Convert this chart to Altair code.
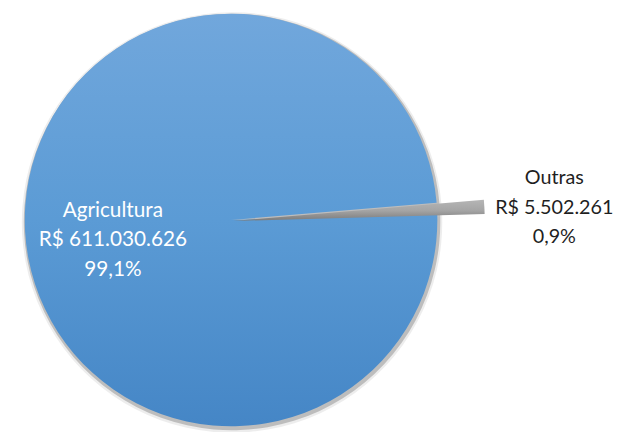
import math
import altair as alt
import pandas as pd

categorias = ["Agricultura", "Outras"]
valores = [611030626, 5502261]

total = sum(valores)
valores_txt = ["R$ " + f"{v:,}".replace(",", ".") for v in valores]
percentuais_txt = [f"{v / total * 100:.1f}".replace(".", ",") + "%" for v in valores]

df = pd.DataFrame({
    "categoria": categorias,
    "valor": valores,
    "valor_txt": valores_txt,
    "pct_txt": percentuais_txt,
})

start = math.radians(88.4)
theta = alt.Theta("valor:Q", stack=True,
                  scale=alt.Scale(range=[start, start + 2 * math.pi]))
order = alt.Order("categoria:N", sort="ascending")
cx, cy = 226, 212

base = alt.Chart(df).encode(theta=theta, order=order).transform_calculate(
    rotulo="datum.categoria + '\\n' + datum.valor_txt + '\\n' + datum.pct_txt"
)

is_agri = "datum.categoria === 'Agricultura'"
is_outras = "datum.categoria === 'Outras'"

blue_grad = alt.LinearGradient(
    gradient="linear", x1=0, y1=0, x2=0, y2=1,
    stops=[alt.GradientStop(color="#71a7dc", offset=0),
           alt.GradientStop(color="#5b9bd5", offset=0.5),
           alt.GradientStop(color="#4586c6", offset=1)],
)
gray_grad = alt.LinearGradient(
    gradient="linear", x1=0, y1=0, x2=0, y2=1,
    stops=[alt.GradientStop(color="#b5b5b5", offset=0),
           alt.GradientStop(color="#a5a5a5", offset=0.5),
           alt.GradientStop(color="#7a7a7a", offset=1)],
)

shadow1 = base.mark_arc(radius=213, x=cx + 1, y=cy + 2.5, fill="#000000",
                        fillOpacity=0.07, stroke=None)
shadow2 = base.mark_arc(radius=211, x=cx + 1, y=cy + 2, fill="#000000",
                        fillOpacity=0.2, stroke=None)

pie_agri = base.mark_arc(radius=209, x=cx, y=cy, fill=blue_grad, stroke=None).encode(
    opacity=alt.condition(is_agri, alt.value(1), alt.value(0))
)
pie_outras = base.mark_arc(radius=255, x=cx + 2, y=cy + 1, fill=gray_grad, stroke=None).encode(
    opacity=alt.condition(is_outras, alt.value(1), alt.value(0))
)

label_agri = base.mark_text(
    radius=120, dy=-16, x=cx, y=cy, font="Lato", fontSize=21, lineHeight=30,
    lineBreak="\n", color="white", align="center", baseline="middle",
).encode(
    text="rotulo:N",
    opacity=alt.condition(is_agri, alt.value(1), alt.value(0)),
)
label_outras = base.mark_text(
    radius=328, dy=-24, x=cx, y=cy, font="Lato", fontSize=20, lineHeight=30,
    lineBreak="\n", color="#1f1f1f", align="center", baseline="middle",
).encode(
    text="rotulo:N",
    opacity=alt.condition(is_outras, alt.value(1), alt.value(0)),
)

chart = alt.layer(
    shadow1, shadow2, pie_agri, pie_outras, label_agri, label_outras
).properties(
    width=617, height=424, padding=0, autosize="none"
).configure_view(stroke=None)

chart.save("out.html", embed_options={"renderer": "svg", "actions": False})
